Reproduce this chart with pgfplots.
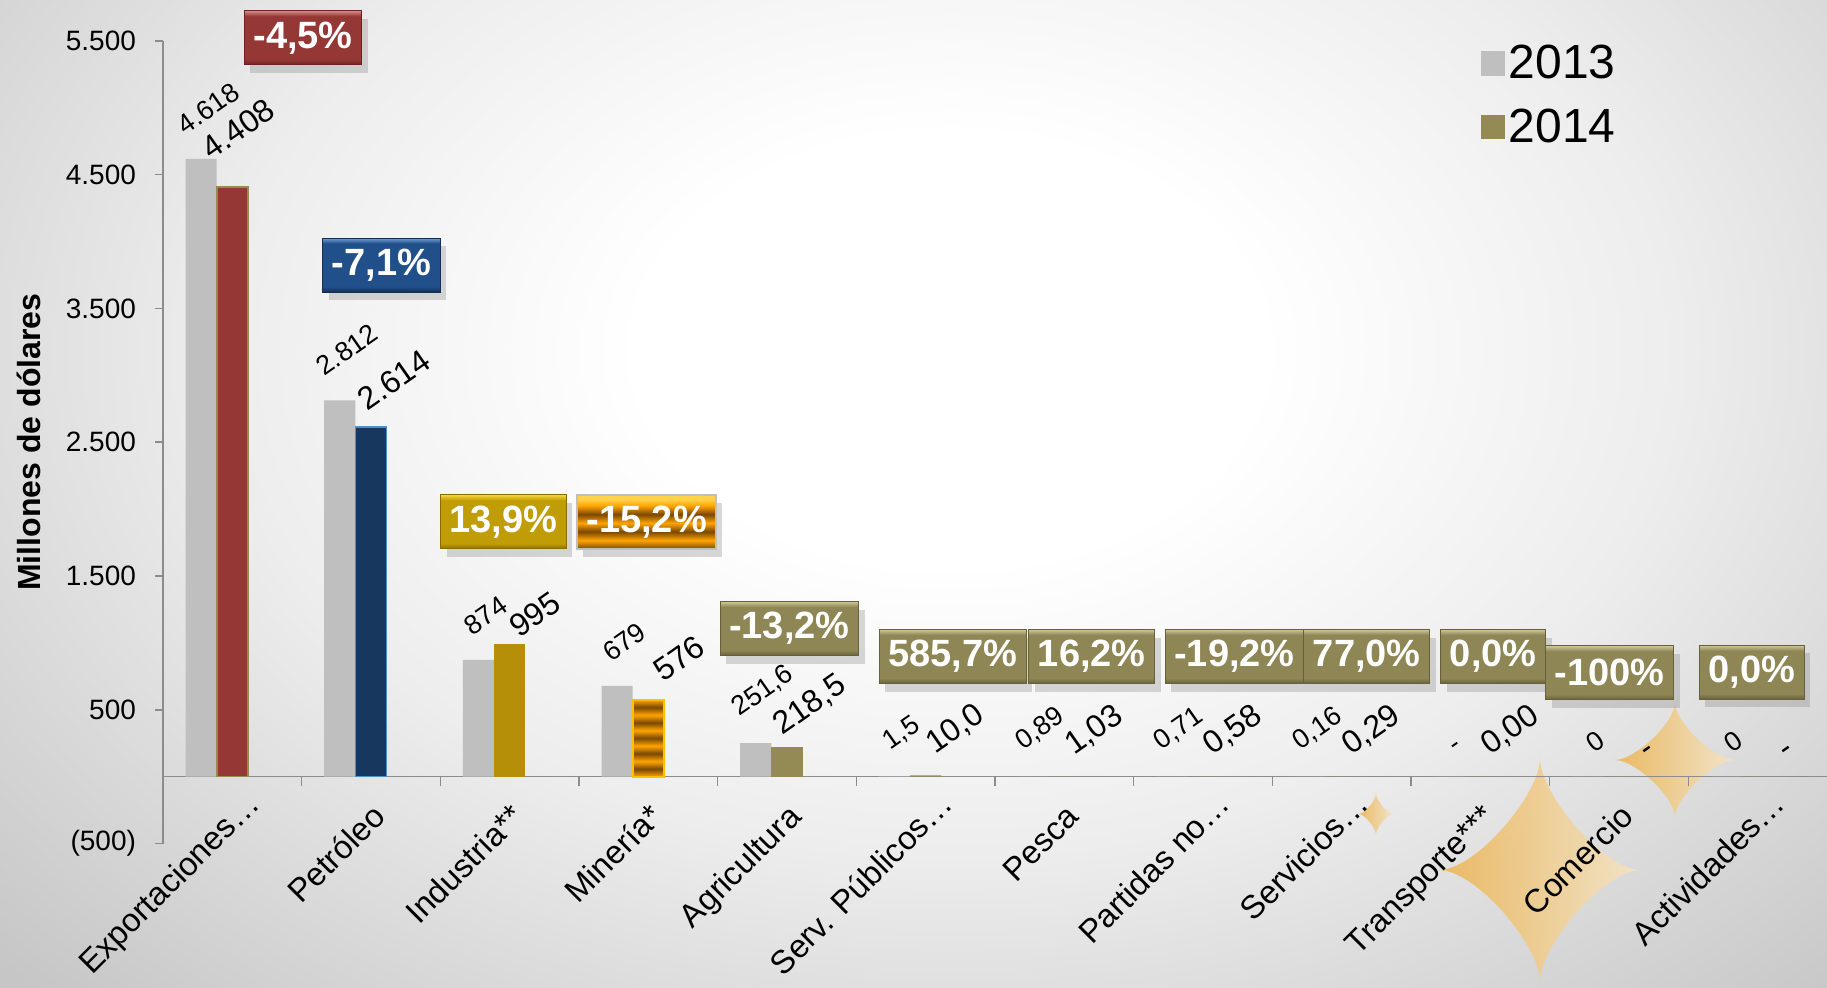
\documentclass[border=0pt]{standalone}
\usepackage{fontspec}
\setmainfont{Liberation Sans}
\usepackage{graphicx}
\usepackage{pgfplots}
\usepackage{pgfplotstable}
\pgfplotsset{compat=1.18}
\usetikzlibrary{shadows}

\definecolor{g13}{HTML}{BFBFBF}
\definecolor{red14}{HTML}{953735}
\definecolor{redF}{HTML}{953735}
\definecolor{redL}{HTML}{DB8684}
\definecolor{redD}{HTML}{6A2322}
\definecolor{blue14}{HTML}{17375E}
\definecolor{blueE}{HTML}{4A90D0}
\definecolor{blueF}{HTML}{214F8A}
\definecolor{blueL}{HTML}{6F9FDA}
\definecolor{blueD}{HTML}{142E55}
\definecolor{gold14}{HTML}{B58F07}
\definecolor{goldF}{HTML}{C09C05}
\definecolor{goldL}{HTML}{F4D535}
\definecolor{goldD}{HTML}{8A6C00}
\definecolor{olv}{HTML}{948A54}
\definecolor{olvF}{HTML}{8E8654}
\definecolor{olvL}{HTML}{CFC799}
\definecolor{olvD}{HTML}{66603C}
\definecolor{orng}{HTML}{FFA500}
\definecolor{orngL}{HTML}{FFD24A}
\definecolor{brn}{HTML}{7A4800}
\definecolor{orngE}{HTML}{FFC000}
\definecolor{axgray}{HTML}{8C8C8C}
\definecolor{bgmid}{HTML}{EDEDED}
\definecolor{bgout}{HTML}{C6C6C6}
\definecolor{starL}{HTML}{EBB65A}
\definecolor{starR}{HTML}{F3E4C6}

\pgfdeclareradialshading{bgshade}{\pgfpointorigin}{color(0bp)=(white); color(6bp)=(white); color(14bp)=(bgmid); color(25bp)=(bgout); color(50bp)=(bgout)}
\pgfdeclareverticalshading{barstripes}{100bp}{color(0bp)=(orng); color(25bp)=(orng); color(30bp)=(brn); color(35bp)=(orng); color(40bp)=(brn); color(45bp)=(orng); color(50bp)=(brn); color(55bp)=(orng); color(60bp)=(brn); color(65bp)=(orng); color(70bp)=(brn); color(75bp)=(orng); color(100bp)=(orng)}
\pgfdeclareverticalshading{boxstripes}{100bp}{color(0bp)=(brn); color(25bp)=(brn); color(33bp)=(orng); color(41bp)=(brn); color(49bp)=(orng); color(57bp)=(brn); color(65bp)=(orng); color(71bp)=(orngL); color(75bp)=(orngL); color(100bp)=(orngL)}
\pgfdeclareverticalshading{bevolv}{100bp}{color(0bp)=(olvD); color(25bp)=(olvD); color(30bp)=(olvF); color(70bp)=(olvF); color(75bp)=(olvL); color(100bp)=(olvL)}
\pgfdeclareverticalshading{bevred}{100bp}{color(0bp)=(redD); color(25bp)=(redD); color(30bp)=(redF); color(70bp)=(redF); color(75bp)=(redL); color(100bp)=(redL)}
\pgfdeclareverticalshading{bevblue}{100bp}{color(0bp)=(blueD); color(25bp)=(blueD); color(30bp)=(blueF); color(70bp)=(blueF); color(75bp)=(blueL); color(100bp)=(blueL)}
\pgfdeclareverticalshading{bevgold}{100bp}{color(0bp)=(goldD); color(25bp)=(goldD); color(30bp)=(goldF); color(70bp)=(goldF); color(75bp)=(goldL); color(100bp)=(goldL)}

\tikzset{
  pbox/.style={font=\fontsize{19}{19}\selectfont\bfseries, text=white,
    minimum height=27pt, inner xsep=4.5pt, inner ysep=0pt, shade,
    drop shadow={opacity=0.3, shadow xshift=3pt, shadow yshift=-4pt}},
  sparkle/.style={left color=starL, right color=starR, opacity=0.92, looseness=0.62}
}
\newcommand\sparkle[4]{%
  \path[sparkle] (#1,#2+#4) to[out=-90,in=180] (#1+#3,#2) to[out=180,in=90] (#1,#2-#4)
    to[out=90,in=0] (#1-#3,#2) to[out=0,in=-90] cycle;}

\pgfplotstableread{
x y lab
0 4618 4.618
1 2812 2.812
2 874 874
3 679 679
4 251.6 251,6
5 1.5 1,5
6 0.89 0,89
7 0.71 0,71
8 0.16 0,16
9 0 -
10 0 0
11 0 0
}\tabA
\pgfplotstableread{
x y lab
0 4408 4.408
}\tabRed
\pgfplotstableread{
x y lab
1 2614 2.614
}\tabBlue
\pgfplotstableread{
x y lab
2 995 995
}\tabGold
\pgfplotstableread{
x y lab
3 576 576
}\tabStripe
\pgfplotstableread{
x y lab
4 218.5 218,5
}\tabOlvA
\pgfplotstableread{
x y lab
5 10.0 10,0
6 1.03 1,03
7 0.58 0,58
8 0.29 0,29
9 0 0,00
10 0 -
11 0 -
}\tabOlvB

\begin{document}
\begin{tikzpicture}
\useasboundingbox (0,0) rectangle (913.5pt,494pt);
\begin{scope}
\clip (0,0) rectangle (913.5pt,494pt);
\shade[shading=bgshade] (-175pt,-131pt) rectangle (1125pt,769pt);
\sparkle{770pt}{59pt}{50.5pt}{56pt}
\sparkle{837.5pt}{114pt}{30pt}{28.8pt}
\sparkle{688pt}{87pt}{8.8pt}{10.4pt}
\end{scope}
\begin{axis}[
  at={(81.5pt,72.2pt)}, anchor=south west,
  scale only axis, width=832pt, height=401.4pt,
  xmin=-0.5, xmax=11.5, ymin=-500, ymax=5500,
  axis x line*=middle, axis y line*=left,
  axis line style={draw=axgray, line width=0.8pt},
  clip=false,
  xtick={0,...,11},
  xticklabels={Exportaciones…\kern-9pt, Petróleo, Industria**, Minería*, Agricultura, Serv. Públicos…\kern-9pt, Pesca, Partidas no…\kern-9pt, Servicios…\kern-9pt, Transporte***, Comercio, Actividades…\kern-9pt},
  xtick style={draw=none},
  extra x ticks={0.5,1.5,...,10.5},
  extra x tick labels={},
  extra x tick style={xtick style={draw=axgray, line width=0.8pt}, major tick length=4.6pt},
  ytick={-500,500,1500,2500,3500,4500,5500},
  yticklabels={(500),500,1.500,2.500,3.500,4.500,5.500},
  ytick style={draw=axgray, line width=0.8pt},
  major tick length=4pt,
  tick align=outside,
  x tick label style={font=\fontsize{16.3}{16.3}\selectfont, inner sep=0pt, xshift=8.2pt, yshift=-17pt, rotate=45, anchor=base east},
  y tick label style={font=\fontsize{14}{14}\selectfont, xshift=-6pt},
  ylabel={Millones de dólares},
  ylabel style={font=\fontsize{16}{16}\selectfont\bfseries, at={(axis description cs:-0.0804,0.5)}, anchor=center},
  legend style={draw=none, fill=none, at={(axis cs:9.0,5500)}, anchor=north west,
    font=\fontsize{24}{24}\selectfont, row sep=9.5pt, inner sep=0pt},
  legend cell align=left,
  legend image code/.code={\fill[#1] (-3.5pt,-5.8pt) rectangle (8.1pt,5.8pt);},
]
\addlegendimage{g13}
\addlegendentry{2013}
\addlegendimage{olv}
\addlegendentry{2014}

% 2013
\addplot[ybar, bar width=0.225, bar shift=-0.225, fill=g13, draw=none, forget plot,
  nodes near coords={\rotatebox{35}{\pgfplotspointmeta}}, point meta=explicit symbolic,
  every node near coord/.append style={font=\fontsize{13.5}{13.5}\selectfont, inner sep=0pt, anchor=south, yshift=11.5pt, xshift=-12pt, text=black}]
  table[x=x,y=y,meta=lab]{\tabA};
% 2014
\addplot[ybar, bar width=0.225, bar shift=0, fill=red14, draw=olv, line width=0.8pt, forget plot,
  nodes near coords={\rotatebox{35}{\pgfplotspointmeta}}, point meta=explicit symbolic,
  every node near coord/.append style={font=\fontsize{16}{16}\selectfont, inner sep=0pt, anchor=south, yshift=12.5pt, xshift=3pt, text=black}]
  table[x=x,y=y,meta=lab]{\tabRed};
\addplot[ybar, bar width=0.225, bar shift=0, fill=blue14, draw=blueE, line width=0.8pt, forget plot,
  nodes near coords={\rotatebox{35}{\pgfplotspointmeta}}, point meta=explicit symbolic,
  every node near coord/.append style={font=\fontsize{16}{16}\selectfont, inner sep=0pt, anchor=south, yshift=7pt, xshift=11.5pt, text=black}]
  table[x=x,y=y,meta=lab]{\tabBlue};
\addplot[ybar, bar width=0.225, bar shift=0, fill=gold14, draw=none, forget plot,
  nodes near coords={\rotatebox{35}{\pgfplotspointmeta}}, point meta=explicit symbolic,
  every node near coord/.append style={font=\fontsize{16}{16}\selectfont, inner sep=0pt, anchor=south, yshift=2pt, xshift=12.5pt, text=black}]
  table[x=x,y=y,meta=lab]{\tabGold};
\addplot[ybar, bar width=0.225, bar shift=0, shade, shading=barstripes, draw=orngE, line width=0.9pt, forget plot,
  nodes near coords={\rotatebox{35}{\pgfplotspointmeta}}, point meta=explicit symbolic,
  every node near coord/.append style={font=\fontsize{16}{16}\selectfont, inner sep=0pt, anchor=south, yshift=8pt, xshift=15.5pt, text=black}]
  table[x=x,y=y,meta=lab]{\tabStripe};
\addplot[ybar, bar width=0.225, bar shift=0, fill=olv, draw=none, forget plot,
  nodes near coords={\rotatebox{35}{\pgfplotspointmeta}}, point meta=explicit symbolic,
  every node near coord/.append style={font=\fontsize{16}{16}\selectfont, inner sep=0pt, anchor=south, yshift=4pt, xshift=11.5pt, text=black}]
  table[x=x,y=y,meta=lab]{\tabOlvA};
\addplot[ybar, bar width=0.225, bar shift=0, fill=olv, draw=none, forget plot,
  nodes near coords={\rotatebox{35}{\pgfplotspointmeta}}, point meta=explicit symbolic,
  every node near coord/.append style={font=\fontsize{16}{16}\selectfont, inner sep=0pt, anchor=south, yshift=8.5pt, xshift=15pt, text=black}]
  table[x=x,y=y,meta=lab]{\tabOlvB};

% variation boxes
\node[pbox, shading=bevred, draw=redD, line width=0.5pt] at (axis cs:0.51,5522) {-4,5\%};
\node[pbox, shading=bevblue, draw=blueD, line width=0.5pt] at (axis cs:1.076,3824) {-7,1\%};
\node[pbox, shading=bevgold, draw=goldD, line width=0.5pt] at (axis cs:1.955,1904) {13,9\%};
\node[pbox, shading=boxstripes, draw=gray!50, line width=1pt] at (axis cs:2.988,1904) {-15,2\%};
\node[pbox, shading=bevolv, draw=olvD, line width=0.5pt] at (axis cs:4.017,1107) {-13,2\%};
\node[pbox, shading=bevolv, draw=olvD, line width=0.5pt] at (axis cs:5.194,898) {585,7\%};
\node[pbox, shading=bevolv, draw=olvD, line width=0.5pt] at (axis cs:6.198,898) {16,2\%};
\node[pbox, shading=bevolv, draw=olvD, line width=0.5pt] at (axis cs:7.227,898) {-19,2\%};
\node[pbox, shading=bevolv, draw=olvD, line width=0.5pt] at (axis cs:8.181,898) {77,0\%};
\node[pbox, shading=bevolv, draw=olvD, line width=0.5pt] at (axis cs:9.093,898) {0,0\%};
\node[pbox, shading=bevolv, draw=olvD, line width=0.5pt] at (axis cs:9.933,776) {-100\%};
\node[pbox, shading=bevolv, draw=olvD, line width=0.5pt] at (axis cs:10.957,780) {0,0\%};
\end{axis}
\end{tikzpicture}
\end{document}
